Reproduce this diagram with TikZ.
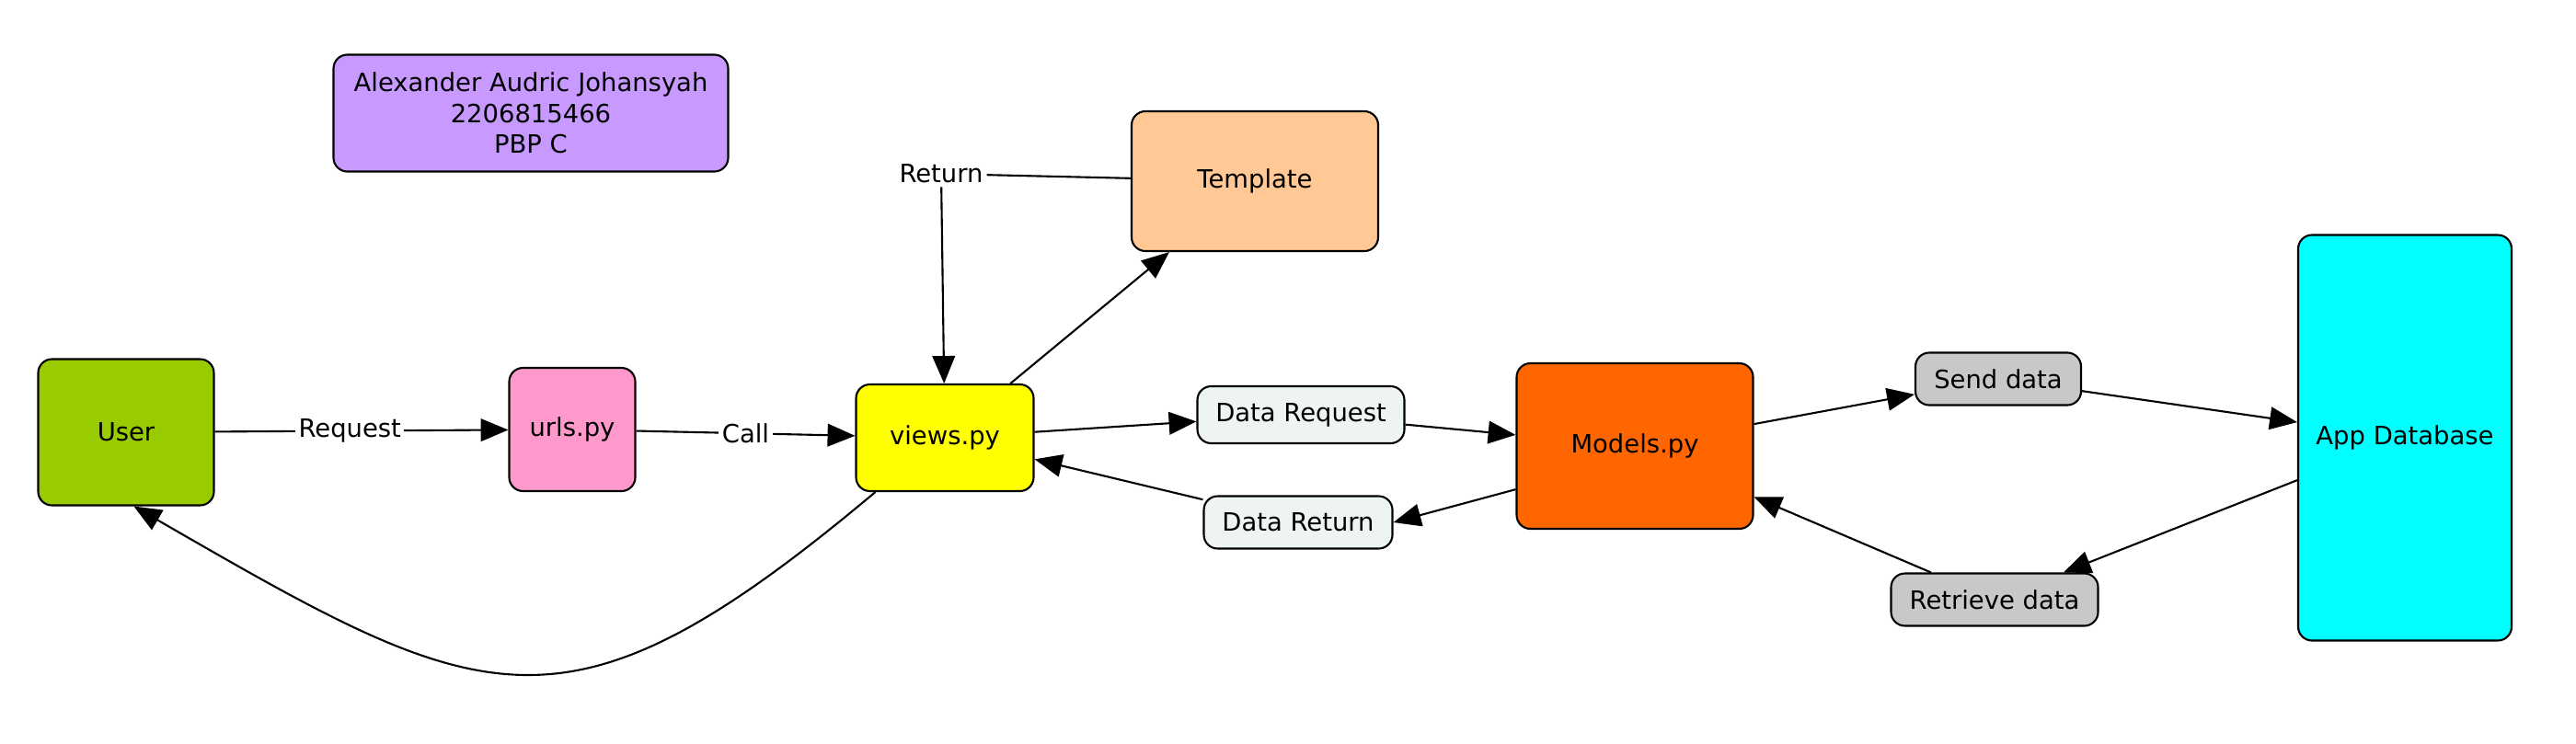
\documentclass[tikz,border=0pt]{standalone}
\usepackage{fontspec}
\setmainfont{DejaVu Sans}
\usetikzlibrary{arrows.meta}
\usetikzlibrary{positioning}

\definecolor{cardpurple}{HTML}{C899FF}
\definecolor{usergreen}{HTML}{99CC00}
\definecolor{urlspink}{HTML}{FF99CC}
\definecolor{viewsyellow}{HTML}{FFFF00}
\definecolor{tmplpeach}{HTML}{FFC894}
\definecolor{msgblue}{HTML}{EEF4F4}
\definecolor{modelsorange}{HTML}{FF6600}
\definecolor{dbgrey}{HTML}{C8C8C8}
\definecolor{dbcyan}{HTML}{00FFFF}

\begin{document}
\begin{tikzpicture}[
      box/.style = {draw, line width=0.6pt, rounded corners=0.15cm,
         inner sep=0pt, align=center},
      flow/.style = {line width=0.6pt,
         -{Triangle[length=8.5pt,width=7pt]}},
      tag/.style = {fill=white, inner sep=1pt},
      font=\fontsize{7.8}{9.6}\selectfont
]
   \useasboundingbox (0,0) rectangle (28,-8.08);

   % name card
   \node[box, fill=cardpurple, minimum width=4.29cm, minimum height=1.27cm]
      (card) at (5.77,-1.23) {Alexander Audric Johansyah\\2206815466\\PBP C};

   % request side
   \node[box, fill=usergreen, minimum width=1.91cm, minimum height=1.59cm]
      (user) at (1.37,-4.70) {User};
   \node[box, fill=urlspink, minimum width=1.37cm, minimum height=1.34cm]
      (urls) at (6.22,-4.67) {urls.py};
   \node[box, fill=viewsyellow, minimum width=1.93cm, minimum height=1.16cm]
      (views) at (10.27,-4.76) {views.py};
   \node[box, fill=tmplpeach, minimum width=2.68cm, minimum height=1.52cm]
      (tmpl) at (13.64,-1.97) {Template};
   \node[tag] (ret) at (10.23,-1.89) {Return};

   % data messages
   \node[box, fill=msgblue, minimum width=2.25cm, minimum height=0.62cm]
      (dreq) at (14.14,-4.51) {Data Request};
   \node[box, fill=msgblue, minimum width=2.05cm, minimum height=0.57cm]
      (dret) at (14.11,-5.68) {Data Return};

   % model and database
   \node[box, fill=modelsorange, minimum width=2.57cm, minimum height=1.80cm]
      (models) at (17.77,-4.85) {Models.py};
   \node[box, fill=dbgrey, minimum width=1.80cm, minimum height=0.57cm]
      (send) at (21.72,-4.12) {Send data};
   \node[box, fill=dbgrey, minimum width=2.25cm, minimum height=0.57cm]
      (retr) at (21.68,-6.52) {Retrieve data};
   \node[box, fill=dbcyan, minimum width=2.32cm, minimum height=4.41cm]
      (appdb) at (26.14,-4.76) {App Database};

   % connectors
   \draw[flow] (user) -- node[tag, pos=0.46] {Request} (urls);
   \draw[flow] (urls) -- node[tag] {Call} (views);
   \draw[flow] (views) -- (tmpl);
   \draw[line width=0.6pt] (tmpl) -- (ret);
   \draw[flow] (ret) -- (views);
   \draw[flow] (views) -- (dreq);
   \draw[flow] (dreq) -- (models);
   \draw[flow] (models.200) -- (dret.east);
   \draw[flow] (dret) -- (views);
   \draw[flow] (models) -- (send);
   \draw[flow] (send) -- (appdb);
   \draw[flow] (appdb) -- (retr);
   \draw[flow] (retr) -- (models);
   \draw[flow] (views.218) to[out=-140, in=-30, looseness=1.4] (user.276);
\end{tikzpicture}
\end{document}
